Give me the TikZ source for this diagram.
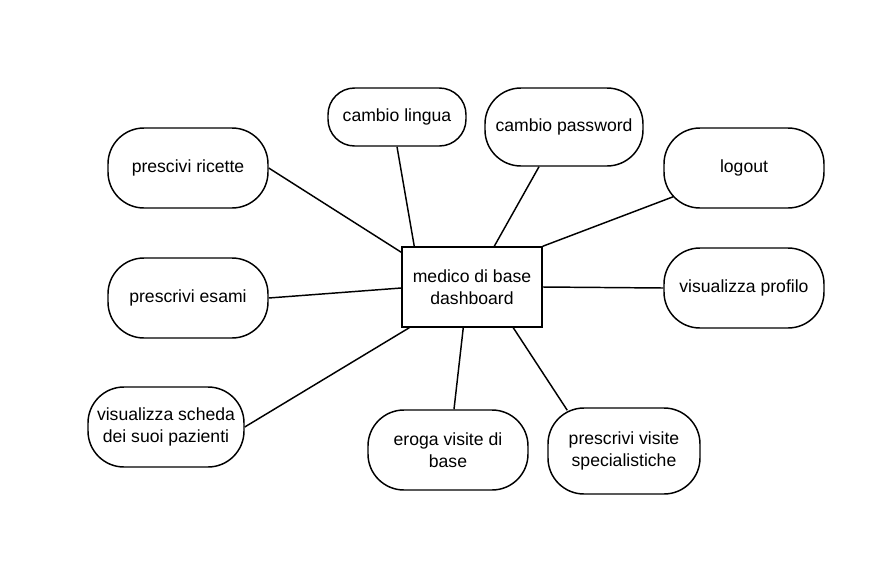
\documentclass[tikz,border=0pt]{standalone}
\usepackage{fontspec}
\setmainfont{Liberation Sans}
\usetikzlibrary{calc}
\begin{document}
\begin{tikzpicture}[x=0.75pt,y=-0.75pt,
  every node/.style={font=\fontsize{13.2}{16.5}\selectfont, align=center, inner sep=0pt, line width=1.1pt},
  pill/.style={draw, rounded corners=27pt, minimum width=#1*0.75pt, minimum height=60pt},
  link/.style={line width=1.1pt}]
\useasboundingbox (0,0) rectangle (869,565);
\node[draw, minimum width=105pt, minimum height=60pt] (c) at (472,287) {medico di base\\dashboard};
\node[pill=160] (ricette) at (188,168) {prescivi ricette};
\node[pill=138, minimum height=43.5pt, rounded corners=20pt] (lingua) at (397,117) {cambio lingua};
\node[pill=158, minimum height=58.5pt] (password) at (564,127) {cambio password};
\node[pill=160] (logout) at (744,168) {logout};
\node[pill=160] (esami) at (188,298) {prescrivi esami};
\node[pill=160] (profilo) at (744,288) {visualizza profilo};
\node[pill=156] (scheda) at (166,427) {visualizza scheda\\dei suoi pazienti};
\node[pill=160] (eroga) at (448,450) {eroga visite di\\base};
\node[pill=152, minimum height=64.5pt] (spec) at (624,451) {prescrivi visite\\specialistiche};

\draw[link] (ricette.east) -- ($(c.north west)+(0,6)$);
\draw[link] (lingua.south) -- ($(c.north west)+(13,0)$);
\draw[link] ($(password.south)+(-25,0)$) -- ($(c.north west)+(93,0)$);
\draw[link] ($(logout.south west)+(10,-12)$) -- (c.north east);
\draw[link] (esami.east) -- ($(c.west)+(0,1)$);
\draw[link] (c.east) -- (profilo.west);
\draw[link] (scheda.east) -- ($(c.south west)+(8,0)$);
\draw[link] ($(eroga.north)+(6,0)$) -- ($(c.south west)+(62,0)$);
\draw[link] ($(spec.north west)+(20,3)$) -- ($(c.south west)+(112,0)$);
\end{tikzpicture}
\end{document}
